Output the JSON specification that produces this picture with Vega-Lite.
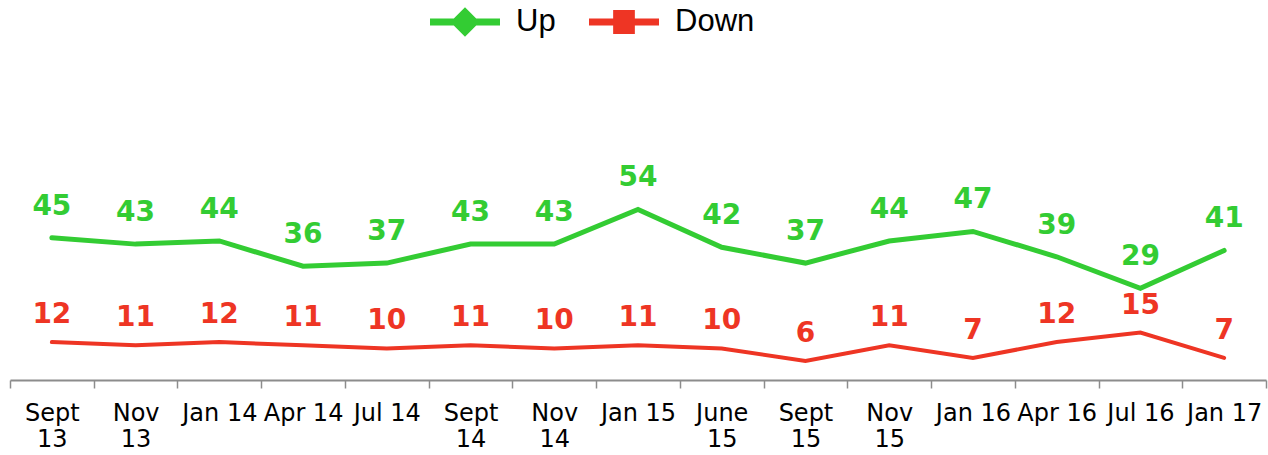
{
  "$schema": "https://vega.github.io/schema/vega-lite/v6.json",
  "width": 1256,
  "height": 316,
  "autosize": "none",
  "padding": {"left": 10, "top": 64, "right": 2, "bottom": 75},
  "background": "white",
  "config": {"view": {"stroke": null}},
  "data": {
    "values": [
      {"i": 0, "wave": "Sept 13", "series": "Up", "pct": 45},
      {"i": 1, "wave": "Nov 13", "series": "Up", "pct": 43},
      {"i": 2, "wave": "Jan 14", "series": "Up", "pct": 44},
      {"i": 3, "wave": "Apr 14", "series": "Up", "pct": 36},
      {"i": 4, "wave": "Jul 14", "series": "Up", "pct": 37},
      {"i": 5, "wave": "Sept 14", "series": "Up", "pct": 43},
      {"i": 6, "wave": "Nov 14", "series": "Up", "pct": 43},
      {"i": 7, "wave": "Jan 15", "series": "Up", "pct": 54},
      {"i": 8, "wave": "June 15", "series": "Up", "pct": 42},
      {"i": 9, "wave": "Sept 15", "series": "Up", "pct": 37},
      {"i": 10, "wave": "Nov 15", "series": "Up", "pct": 44},
      {"i": 11, "wave": "Jan 16", "series": "Up", "pct": 47},
      {"i": 12, "wave": "Apr 16", "series": "Up", "pct": 39},
      {"i": 13, "wave": "Jul 16", "series": "Up", "pct": 29},
      {"i": 14, "wave": "Jan 17", "series": "Up", "pct": 41},
      {"i": 0, "wave": "Sept 13", "series": "Down", "pct": 12},
      {"i": 1, "wave": "Nov 13", "series": "Down", "pct": 11},
      {"i": 2, "wave": "Jan 14", "series": "Down", "pct": 12},
      {"i": 3, "wave": "Apr 14", "series": "Down", "pct": 11},
      {"i": 4, "wave": "Jul 14", "series": "Down", "pct": 10},
      {"i": 5, "wave": "Sept 14", "series": "Down", "pct": 11},
      {"i": 6, "wave": "Nov 14", "series": "Down", "pct": 10},
      {"i": 7, "wave": "Jan 15", "series": "Down", "pct": 11},
      {"i": 8, "wave": "June 15", "series": "Down", "pct": 10},
      {"i": 9, "wave": "Sept 15", "series": "Down", "pct": 6},
      {"i": 10, "wave": "Nov 15", "series": "Down", "pct": 11},
      {"i": 11, "wave": "Jan 16", "series": "Down", "pct": 7},
      {"i": 12, "wave": "Apr 16", "series": "Down", "pct": 12},
      {"i": 13, "wave": "Jul 16", "series": "Down", "pct": 15},
      {"i": 14, "wave": "Jan 17", "series": "Down", "pct": 7}
    ]
  },
  "encoding": {
    "x": {
      "field": "wave", "type": "nominal", "sort": null, "title": null,
      "scale": {"paddingInner": 0, "paddingOuter": 0},
      "axis": {
        "labelAngle": 0,
        "labelFont": "DejaVu Sans", "labelFontSize": 24, "labelColor": "black",
        "labelLineHeight": 26, "labelPadding": 13, "labelOverlap": false, "labelLimit": 200,
        "labelExpr": "indexof(['Sept','Nov','June'], split(datum.label, ' ')[0]) >= 0 ? split(datum.label, ' ') : datum.label",
        "tickBand": "extent", "tickSize": 8, "tickColor": "#8c8c8c", "tickWidth": 1.5,
        "domainColor": "#8c8c8c", "domainWidth": 2
      }
    },
    "y": {"field": "pct", "type": "quantitative", "scale": {"domain": [0, 100]}, "axis": null}
  },
  "layer": [
    {
      "mark": {"type": "line", "strokeCap": "round", "strokeJoin": "miter"},
      "encoding": {
        "order": {"field": "i"},
        "color": {
          "field": "series", "type": "nominal",
          "scale": {"domain": ["Up", "Down"], "range": ["#33cc33", "#ee3524"]},
          "legend": {
            "orient": "none", "legendX": 420, "legendY": -77, "direction": "horizontal",
            "title": null, "padding": 0, "symbolSize": 4900, "symbolStrokeWidth": 0,
            "labelFont": "Liberation Sans", "labelFontSize": 31, "labelColor": "black",
            "labelOffset": 16, "columnPadding": 33,
            "encode": {
              "symbols": {
                "update": {
                  "shape": {"signal": "datum.value === 'Up' ? 'M-1,-0.1H1V0.1H-1Z M0,-0.42L0.42,0L0,0.42L-0.42,0Z' : 'M-1,-0.1H1V0.1H-1Z M-0.31,-0.34H0.31V0.34H-0.31Z'"},
                  "fill": {"signal": "datum.value === 'Up' ? '#33cc33' : '#ee3524'"},
                  "strokeWidth": {"value": 0},
                  "opacity": {"value": 1}
                }
              }
            }
          }
        },
        "strokeWidth": {"condition": {"test": "datum.series === 'Up'", "value": 5}, "value": 4}
      }
    },
    {
      "transform": [{"filter": "datum.series === 'Up'"}],
      "mark": {"type": "text", "font": "DejaVu Sans", "fontWeight": "bold", "fontSize": 28, "color": "#33cc33", "baseline": "middle", "dy": -31},
      "encoding": {"text": {"field": "pct", "type": "quantitative"}}
    },
    {
      "transform": [{"filter": "datum.series === 'Down'"}],
      "mark": {"type": "text", "font": "DejaVu Sans", "fontWeight": "bold", "fontSize": 28, "color": "#ee3524", "baseline": "middle", "dy": -27},
      "encoding": {"text": {"field": "pct", "type": "quantitative"}}
    }
  ]
}
